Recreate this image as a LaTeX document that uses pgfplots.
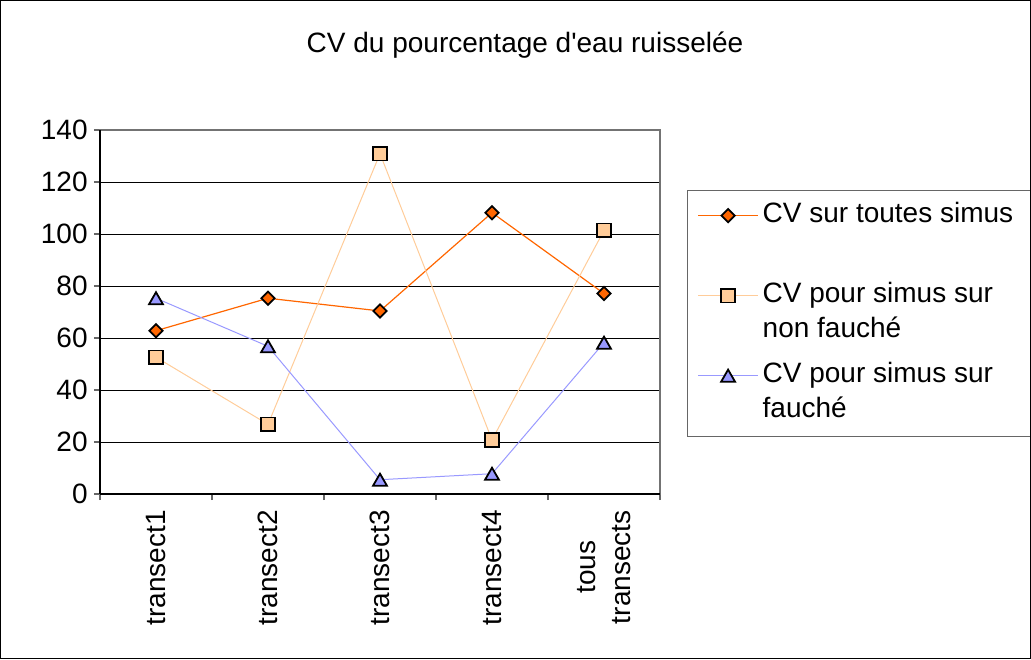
\documentclass[border=0pt]{standalone}
\usepackage{pgfplots}
\pgfplotsset{compat=1.18}
\usepackage{fontspec}
\setmainfont{Liberation Sans}[Ligatures=TeXOff]
\definecolor{cA}{HTML}{FF6600}
\definecolor{cB}{HTML}{FFCC99}
\definecolor{cC}{HTML}{9999FF}
\begin{document}
\begin{tikzpicture}
\useasboundingbox (0,0) rectangle (515.5pt,329.5pt);
\begin{axis}[
  at={(50pt,82.5pt)}, anchor=south west,
  scale only axis, width=280pt, height=182pt,
  xmin=-0.5, xmax=4.5, ymin=0, ymax=140,
  font=\fontsize{14}{17.5}\selectfont,
  /pgf/number format/assume math mode=true,
  ytick={0,20,...,140},
  xtick={0,...,4},
  xticklabels={transect1,transect2,transect3,transect4,{tous\\transects}},
  x tick label style={rotate=90, anchor=east, align=center, inner sep=2pt},
  xticklabel shift=3pt,
  y tick label style={inner sep=3pt},
  minor xtick={-0.5,0.5,...,4.5},
  major x tick style={draw=none},
  tick align=outside, tick pos=left,
  major tick length=3pt, minor tick length=3pt,
  tick style={black!60, line width=0.6pt},
  ymajorgrids, major grid style={black, line width=0.5pt},
  axis line style={draw=black!55, line width=0.8pt},
  clip=false,
  legend style={at={(1.048,0.835)}, anchor=north west, draw=black!60, line width=0.6pt,
    inner xsep=5pt, inner ysep=4pt, row sep=5pt, font=\fontsize{14}{17.5}\selectfont,
    cells={anchor=base west}, nodes={text depth=}},
  legend cell align=left,
  legend image code/.code={\draw[mark repeat=2,mark phase=2,yshift=9pt] plot coordinates {(0pt,0pt) (15pt,0pt) (30pt,0pt)};},
]
\addplot[cA, line width=0.6pt, mark=square*, mark size=2.35pt, mark options={rotate=45, draw=black, fill=cA, line width=0.9pt}]
  coordinates {(0,62.8) (1,75.3) (2,70.4) (3,108.2) (4,77.1)};
\addlegendentry{\parbox[t][31pt][t]{140pt}{CV sur toutes simus}}
\addplot[cB, line width=0.5pt, mark=square*, mark size=3.4pt, mark options={draw=black, fill=cB, line width=0.9pt}]
  coordinates {(0,52.6) (1,26.8) (2,130.9) (3,20.8) (4,101.4)};
\addlegendentry{\parbox[t][31pt][t]{140pt}{CV pour simus sur\\non fauché}}
\addplot[cC, line width=0.5pt, mark=triangle*, mark size=4pt, mark options={draw=black, fill=cC, line width=0.9pt, yshift=-1pt}]
  coordinates {(0,75.3) (1,56.8) (2,5.5) (3,7.8) (4,58.2)};
\addlegendentry{\parbox[t][31pt][t]{140pt}{CV pour simus sur\\fauché}}
\draw[black, line width=0.6pt] (rel axis cs:0,0) -- (rel axis cs:0,1);
\draw[black, line width=1.2pt] (rel axis cs:0,0) -- (rel axis cs:1,0);
\end{axis}
\node[font=\fontsize{14}{17}\selectfont] at (262.5pt,307pt) {CV du pourcentage d'eau ruisselée};
\draw[black, line width=0.6pt] (0.3pt,0.3pt) rectangle (515.2pt,329.2pt);
\end{tikzpicture}
\end{document}
